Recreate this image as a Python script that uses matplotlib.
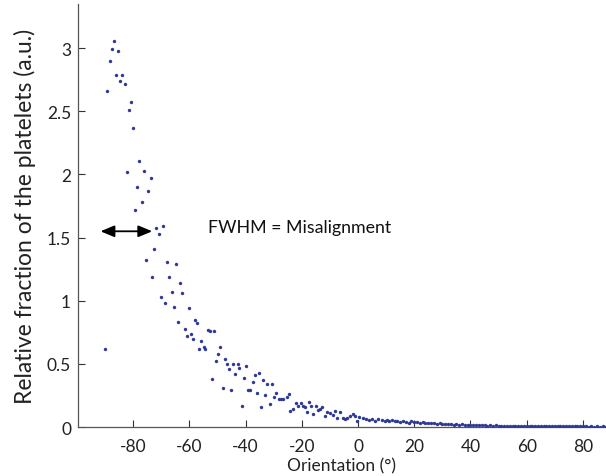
import matplotlib
matplotlib.use("Agg")
import matplotlib.pyplot as plt

plt.rcParams['font.family'] = ['Lato', 'DejaVu Sans']

orientation = [
    -90.0, -89.2, -88.2, -87.5, -86.8, -86.0, -85.3, -84.6, -83.9, -82.8,
    -82.3, -81.4, -80.7, -80.0, -79.2, -78.5, -77.8, -76.9, -76.1, -75.5,
    -74.7, -73.8, -73.1, -72.4, -71.7, -70.9, -70.0, -69.3, -68.5, -67.8,
    -67.1, -66.2, -65.5, -64.8, -63.9, -63.3, -62.5, -61.7, -60.9, -60.2,
    -59.4, -58.8, -58.0, -57.4, -56.4, -55.7, -54.8, -54.3, -53.5, -52.6,
    -52.0, -51.1, -50.4, -49.7, -49.0, -48.1, -47.4, -46.6, -45.9, -45.2,
    -44.3, -43.6, -42.8, -42.2, -41.2, -40.5, -39.8, -39.1, -38.5, -37.4,
    -36.7, -35.9, -35.3, -34.5, -33.7, -33.0, -32.2, -31.4, -30.7, -29.9,
    -29.2, -28.2, -27.5, -26.6, -25.4, -24.4, -24.2, -23.2, -22.0, -21.2,
    -20.3, -19.4, -18.8, -18.0, -17.3, -16.8, -15.9, -14.9, -14.1, -13.5,
    -12.9, -11.7, -10.9, -10.0, -9.0, -8.2, -7.6, -6.4, -5.4, -4.6,
    -3.8, -2.8, -1.9, -1.1, -0.2, 0.5, 1.7, 2.8, 4.0, 4.9,
    6.0, 7.2, 8.4, 9.6, 10.4,
    11, 12, 13, 14, 15, 16, 17, 18, 19, 20,
    21, 22, 23, 24, 25, 26, 27, 28, 29, 30,
    31, 32, 33, 34, 35, 36, 37, 38, 39, 40,
    41, 42, 43, 44, 45, 46, 47, 48, 49, 50,
    51, 52, 53, 54, 55, 56, 57, 58, 59, 60,
    61, 62, 63, 64, 65, 66, 67, 68, 69, 70,
    71, 72, 73, 74, 75, 76, 77, 78, 79, 80,
    81, 82, 83, 84, 85, 86, 87, 88, 89, 90,
]

fraction = [
    0.62, 2.66, 2.90, 2.99, 3.06, 2.79, 2.98, 2.74, 2.79, 2.72,
    2.02, 2.51, 2.57, 2.37, 1.72, 1.90, 2.11, 1.78, 2.03, 1.32,
    1.87, 1.97, 1.19, 1.41, 1.58, 1.53, 1.03, 1.59, 0.98, 1.31,
    1.19, 1.07, 0.95, 1.29, 0.83, 1.14, 1.06, 0.78, 0.72, 0.94,
    0.74, 0.70, 0.85, 0.82, 0.62, 0.68, 0.63, 0.62, 0.77, 0.76,
    0.38, 0.76, 0.52, 0.58, 0.63, 0.31, 0.54, 0.50, 0.46, 0.29,
    0.50, 0.42, 0.50, 0.47, 0.17, 0.39, 0.48, 0.29, 0.29, 0.36,
    0.41, 0.27, 0.43, 0.16, 0.37, 0.25, 0.34, 0.18, 0.34, 0.24,
    0.27, 0.22, 0.22, 0.22, 0.24, 0.26, 0.125, 0.14, 0.19, 0.17,
    0.19, 0.17, 0.155, 0.12, 0.195, 0.17, 0.10, 0.17, 0.135, 0.14,
    0.155, 0.085, 0.12, 0.11, 0.095, 0.13, 0.07, 0.12, 0.07, 0.065,
    0.07, 0.09, 0.10, 0.09, 0.05, 0.077, 0.071, 0.063, 0.058, 0.063,
    0.05, 0.063, 0.055, 0.05, 0.058,
    0.050, 0.055, 0.045, 0.050, 0.040, 0.048, 0.042, 0.035, 0.045, 0.038,
    0.040, 0.030, 0.036, 0.032, 0.035, 0.028, 0.030, 0.025, 0.030, 0.022,
    0.026, 0.020, 0.024, 0.018, 0.022, 0.017, 0.020, 0.015, 0.018, 0.014,
    0.016, 0.013, 0.015, 0.012, 0.014, 0.011, 0.013, 0.010, 0.012, 0.010,
    0.011, 0.009, 0.010, 0.009, 0.010, 0.008, 0.009, 0.008, 0.009, 0.007,
    0.008, 0.007, 0.008, 0.007, 0.007, 0.006, 0.007, 0.006, 0.007, 0.006,
    0.006, 0.005, 0.006, 0.005, 0.006, 0.005, 0.005, 0.005, 0.006, 0.005,
    0.005, 0.004, 0.005, 0.004, 0.005, 0.004, 0.005, 0.004, 0.004, 0.004,
]

x_ticks = [-80, -60, -40, -20, 0, 20, 40, 60, 80]
y_ticks = [0, 0.5, 1, 1.5, 2, 2.5, 3]
y_tick_labels = ['0', '0.5', '1', '1.5', '2', '2.5', '3']

fwhm_x = [-91.6, -73.2]
fwhm_y = 1.55
annotation = "FWHM = Misalignment"

fig = plt.figure(figsize=(6.06, 4.77), dpi=100)
ax = fig.add_axes([0.1287, 0.1027, 0.8713, 0.8868])

ax.scatter(orientation, fraction, s=6, color='#2e3a94', linewidths=0, zorder=3)

ax.annotate('', xy=(fwhm_x[0], fwhm_y), xytext=(fwhm_x[1], fwhm_y),
            arrowprops=dict(arrowstyle='<|-|>,head_length=0.6,head_width=0.25',
                            color='black', lw=1.3,
                            mutation_scale=14, shrinkA=0, shrinkB=0))
ax.text(-53.3, 1.585, annotation, fontsize=12.8, color='#111111',
        ha='left', va='center')

ax.set_xlim(-99.6, 88.2)
ax.set_ylim(0, 3.35)
ax.set_xticks(x_ticks)
ax.set_xticklabels([str(v) for v in x_ticks])
ax.set_yticks(y_ticks)
ax.set_yticklabels(y_tick_labels)
ax.tick_params(direction='in', length=5, width=0.8, labelsize=12.5,
               colors='#333333', labelcolor='#222222')
ax.tick_params(axis='x', pad=8)
ax.tick_params(axis='y', pad=5)

for side in ['top', 'right']:
    ax.spines[side].set_visible(False)
for side in ['left', 'bottom']:
    ax.spines[side].set_color('#555555')
    ax.spines[side].set_linewidth(0.9)

ax.set_xlabel('Orientation (°)', fontsize=12.5, color='#222222', labelpad=2)
ax.set_ylabel('Relative fraction of the platelets (a.u.)', fontsize=16.5,
              color='#222222', labelpad=8)

fig.savefig('out.png', dpi=100, facecolor='white')
